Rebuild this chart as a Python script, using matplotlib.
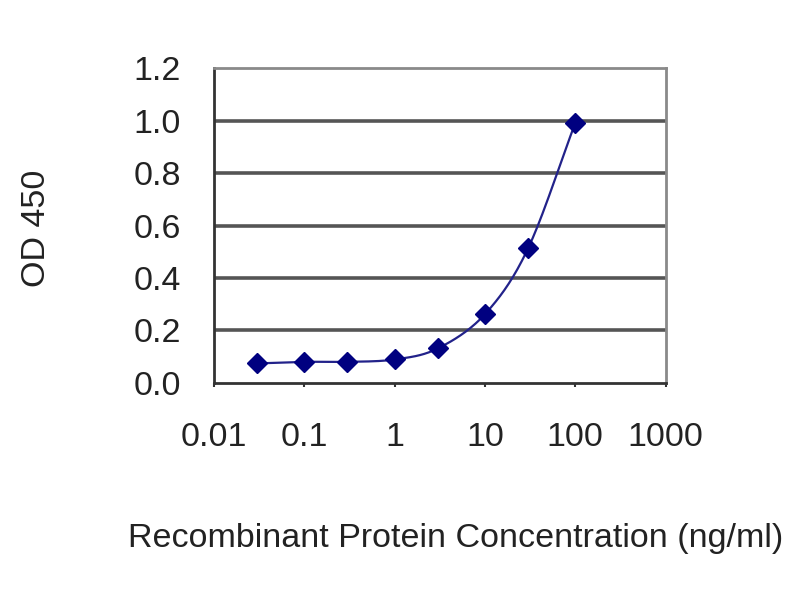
import numpy as np
import matplotlib
matplotlib.use("Agg")
import matplotlib.pyplot as plt

plt.rcParams['font.family'] = ['Liberation Sans', 'DejaVu Sans']

# concentrations (ng/ml) and OD 450 readings
conc = [0.03, 0.1, 0.3, 1, 3, 10, 30, 100]
od450 = [0.074, 0.080, 0.080, 0.089, 0.131, 0.262, 0.513, 0.992]
x_ticks = [0.01, 0.1, 1, 10, 100, 1000]
x_tick_labels = ['0.01', '0.1', '1', '10', '100', '1000']
y_ticks = [0.0, 0.2, 0.4, 0.6, 0.8, 1.0, 1.2]


def smooth(xs, ys, n=30):
    # Catmull-Rom through the points in log-x space (like a spreadsheet "smoothed line")
    lx = np.log10(xs)
    ys = np.asarray(ys, dtype=float)
    px = np.concatenate([[2 * lx[0] - lx[1]], lx, [2 * lx[-1] - lx[-2]]])
    py = np.concatenate([[2 * ys[0] - ys[1]], ys, [2 * ys[-1] - ys[-2]]])
    outx, outy = [], []
    t = np.linspace(0, 1, n)
    for i in range(1, len(px) - 2):
        for p, out in ((px, outx), (py, outy)):
            p0, p1, p2, p3 = p[i - 1], p[i], p[i + 1], p[i + 2]
            out.extend(0.5 * (2 * p1 + (-p0 + p2) * t
                              + (2 * p0 - 5 * p1 + 4 * p2 - p3) * t ** 2
                              + (-p0 + 3 * p1 - 3 * p2 + p3) * t ** 3))
    return 10 ** np.array(outx), np.array(outy)


fig = plt.figure(figsize=(8, 6), dpi=100)
ax = fig.add_axes([0.2675, 0.362, 0.5645, 0.524])

sx, sy = smooth(conc, od450)
ax.plot(sx, sy, color='#22228a', lw=1.6, zorder=3)
ax.plot(conc, od450, linestyle='none', marker='D', markersize=10,
        color='#000080', zorder=4)

ax.set_xscale('log')
ax.set_xlim(0.01, 1000)
ax.set_ylim(0, 1.2)
ax.set_xticks(x_ticks)
ax.set_xticklabels(x_tick_labels)
ax.xaxis.set_minor_locator(matplotlib.ticker.NullLocator())
ax.set_yticks(y_ticks)
ax.set_yticklabels(['%.1f' % v for v in y_ticks])

for v in y_ticks[1:-1]:
    ax.axhline(v, color='#555555', lw=2.6, zorder=1)

for side in ('top', 'right'):
    ax.spines[side].set_color('#8a8a8a')
    ax.spines[side].set_linewidth(2)
for side in ('left', 'bottom'):
    ax.spines[side].set_color('#333333')
    ax.spines[side].set_linewidth(2)

ax.tick_params(axis='x', direction='out', length=3, width=1.5, color='#333333',
               labelsize=24.5, pad=25, labelcolor='#222222')
ax.tick_params(axis='y', length=0, labelsize=24.5, pad=24, labelcolor='#222222')

fig.text(0.569, 0.102, 'Recombinant Protein Concentration (ng/ml)',
         ha='center', va='center', fontsize=24.5, color='#222222')
fig.text(0.046, 0.62, 'OD 450', rotation=90, ha='center', va='center',
         fontsize=24.5, color='#222222')

fig.savefig('out.png', dpi=100)
